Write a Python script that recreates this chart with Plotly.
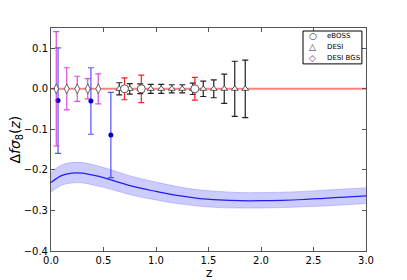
import plotly.graph_objects as go

# Theory curve and band
z_th = [0.0, 0.1, 0.2, 0.3, 0.4, 0.5, 0.6, 0.8, 1.0, 1.2, 1.4, 1.6, 1.8, 2.0, 2.2, 2.4, 2.6, 2.8, 3.0]
th_mid = [-0.231, -0.214, -0.208, -0.208, -0.213, -0.219, -0.227, -0.242, -0.253, -0.263, -0.270, -0.274, -0.276, -0.276, -0.275, -0.273, -0.270, -0.267, -0.264]
th_up = [-0.206, -0.188, -0.182, -0.182, -0.187, -0.194, -0.202, -0.218, -0.230, -0.241, -0.249, -0.253, -0.256, -0.256, -0.255, -0.253, -0.250, -0.247, -0.244]
th_lo = [-0.255, -0.238, -0.232, -0.232, -0.237, -0.243, -0.250, -0.264, -0.274, -0.283, -0.289, -0.293, -0.294, -0.294, -0.293, -0.291, -0.289, -0.286, -0.283]

# Current measurements
z_dat = [0.067, 0.38, 0.57]
v_dat = [-0.029, -0.030, -0.114]
e_dat = [0.130, 0.082, 0.105]

# Forecasts
z_bgs = [0.05, 0.15, 0.25, 0.35, 0.45]
e_bgs = [0.141, 0.052, 0.031, 0.025, 0.037]

z_desi = [0.65, 0.75, 0.85, 0.95, 1.05, 1.15, 1.25, 1.35, 1.45, 1.55, 1.65, 1.75, 1.85]
e_desi = [0.015, 0.013, 0.012, 0.011, 0.011, 0.010, 0.010, 0.014, 0.019, 0.022, 0.036, 0.068, 0.071]

z_eboss = [0.70, 0.86, 1.37]
e_eboss = [0.027, 0.034, 0.028]

x_ticks = [0.0, 0.5, 1.0, 1.5, 2.0, 2.5, 3.0]
y_ticks = [-0.4, -0.3, -0.2, -0.1, 0.0, 0.1]

legend_labels = ["eBOSS", "DESI", "DESI BGS"]
legend_symbols = ["\u25cb", "\u25b3", "\u25c7"]
legend_colors = ["#333", "#333", "#8a2a8a"]

fig = go.Figure()

# band
fig.add_trace(go.Scatter(x=z_th, y=th_up, mode="lines", line=dict(color="rgba(80,80,255,0.35)", width=0.8, shape="spline"),
                         showlegend=False, hoverinfo="skip"))
fig.add_trace(go.Scatter(x=z_th, y=th_lo, mode="lines", line=dict(color="rgba(80,80,255,0.35)", width=0.8, shape="spline"),
                         fill="tonexty", fillcolor="rgba(0,0,255,0.2)", showlegend=False, hoverinfo="skip"))
fig.add_trace(go.Scatter(x=z_th, y=th_mid, mode="lines", line=dict(color="#2020ee", width=1.2, shape="spline"),
                         showlegend=False))

# zero line
fig.add_trace(go.Scatter(x=[0.0, 3.0], y=[0.0, 0.0], mode="lines", line=dict(color="#ff8080", width=2),
                         showlegend=False, hoverinfo="skip"))

# data points
fig.add_trace(go.Scatter(x=z_dat, y=v_dat, mode="markers",
                         marker=dict(color="#0000cc", size=5),
                         error_y=dict(type="data", array=e_dat, color="rgba(40,40,255,0.8)", thickness=1.2, width=3),
                         showlegend=False))

zeros = lambda a: [0.0 for _ in a]

fig.add_trace(go.Scatter(x=z_bgs, y=zeros(z_bgs), mode="markers", name="DESI BGS", showlegend=False,
                         marker=dict(symbol="diamond-tall", color="white", size=7, line=dict(color="#444", width=0.8)),
                         error_y=dict(type="data", array=e_bgs, color="rgba(205,0,205,0.7)", thickness=1.2, width=3)))

fig.add_trace(go.Scatter(x=z_desi, y=zeros(z_desi), mode="markers", name="DESI", showlegend=False,
                         marker=dict(symbol="triangle-up", color="white", size=6, line=dict(color="#333", width=0.8)),
                         error_y=dict(type="data", array=e_desi, color="#222", thickness=1.2, width=3)))

fig.add_trace(go.Scatter(x=z_eboss, y=zeros(z_eboss), mode="markers", name="eBOSS", showlegend=False,
                         marker=dict(symbol="circle", color="white", size=8, line=dict(color="#333", width=0.8)),
                         error_y=dict(type="data", array=e_eboss, color="#ee2222", thickness=1.2, width=3)))

# compact legend box (matplotlib style)
ann = []
leg_y = [0.964, 0.913, 0.867]
for lab, sym, col, yy in zip(legend_labels, legend_symbols, legend_colors, leg_y):
    ann.append(dict(text=sym, xref="paper", yref="paper", x=0.831, y=yy, xanchor="center", yanchor="middle",
                    showarrow=False, font=dict(size=9, color=col)))
    ann.append(dict(text=lab, xref="paper", yref="paper", x=0.870, y=yy, xanchor="left", yanchor="middle",
                    showarrow=False, font=dict(size=7, color="black")))

ann.append(dict(text="z", xref="paper", yref="paper", x=0.5, y=-0.097, xanchor="center", yanchor="middle",
                showarrow=False, font=dict(size=12)))
ann.append(dict(text="\u0394<i>f\u03c3</i><sub>8</sub>(<i>z</i>)", xref="paper", yref="paper", x=-0.114, y=0.5,
                xanchor="center", yanchor="middle", textangle=-90, showarrow=False, font=dict(size=14)))

fig.update_layout(
    width=399, height=272,
    margin=dict(l=43, r=41, t=20, b=29, autoexpand=False),
    paper_bgcolor="white", plot_bgcolor="white",
    font=dict(family="DejaVu Sans", size=10, color="black"),
    showlegend=False,
    xaxis=dict(range=[0, 3.0], tickvals=x_ticks, ticktext=[f"{t:.1f}" for t in x_ticks],
               ticks="inside", ticklen=4, tickcolor="#555", mirror="ticks", showline=True,
               linecolor="#555", linewidth=1, showgrid=False, zeroline=False, automargin=False),
    yaxis=dict(range=[-0.4, 0.15], tickvals=y_ticks,
               ticktext=[f"{t:.1f}".replace("-", "\u2212") for t in y_ticks],
               ticks="inside", ticklen=4, tickcolor="#555", mirror="ticks", showline=True,
               linecolor="#555", linewidth=1, showgrid=False, zeroline=False, automargin=False),
    shapes=[dict(type="rect", xref="paper", yref="paper", x0=0.80, x1=0.987, y0=0.839, y1=0.9865,
                 line=dict(color="black", width=1), fillcolor="white", layer="above")],
    annotations=ann,
)

fig.write_html("out.html")
